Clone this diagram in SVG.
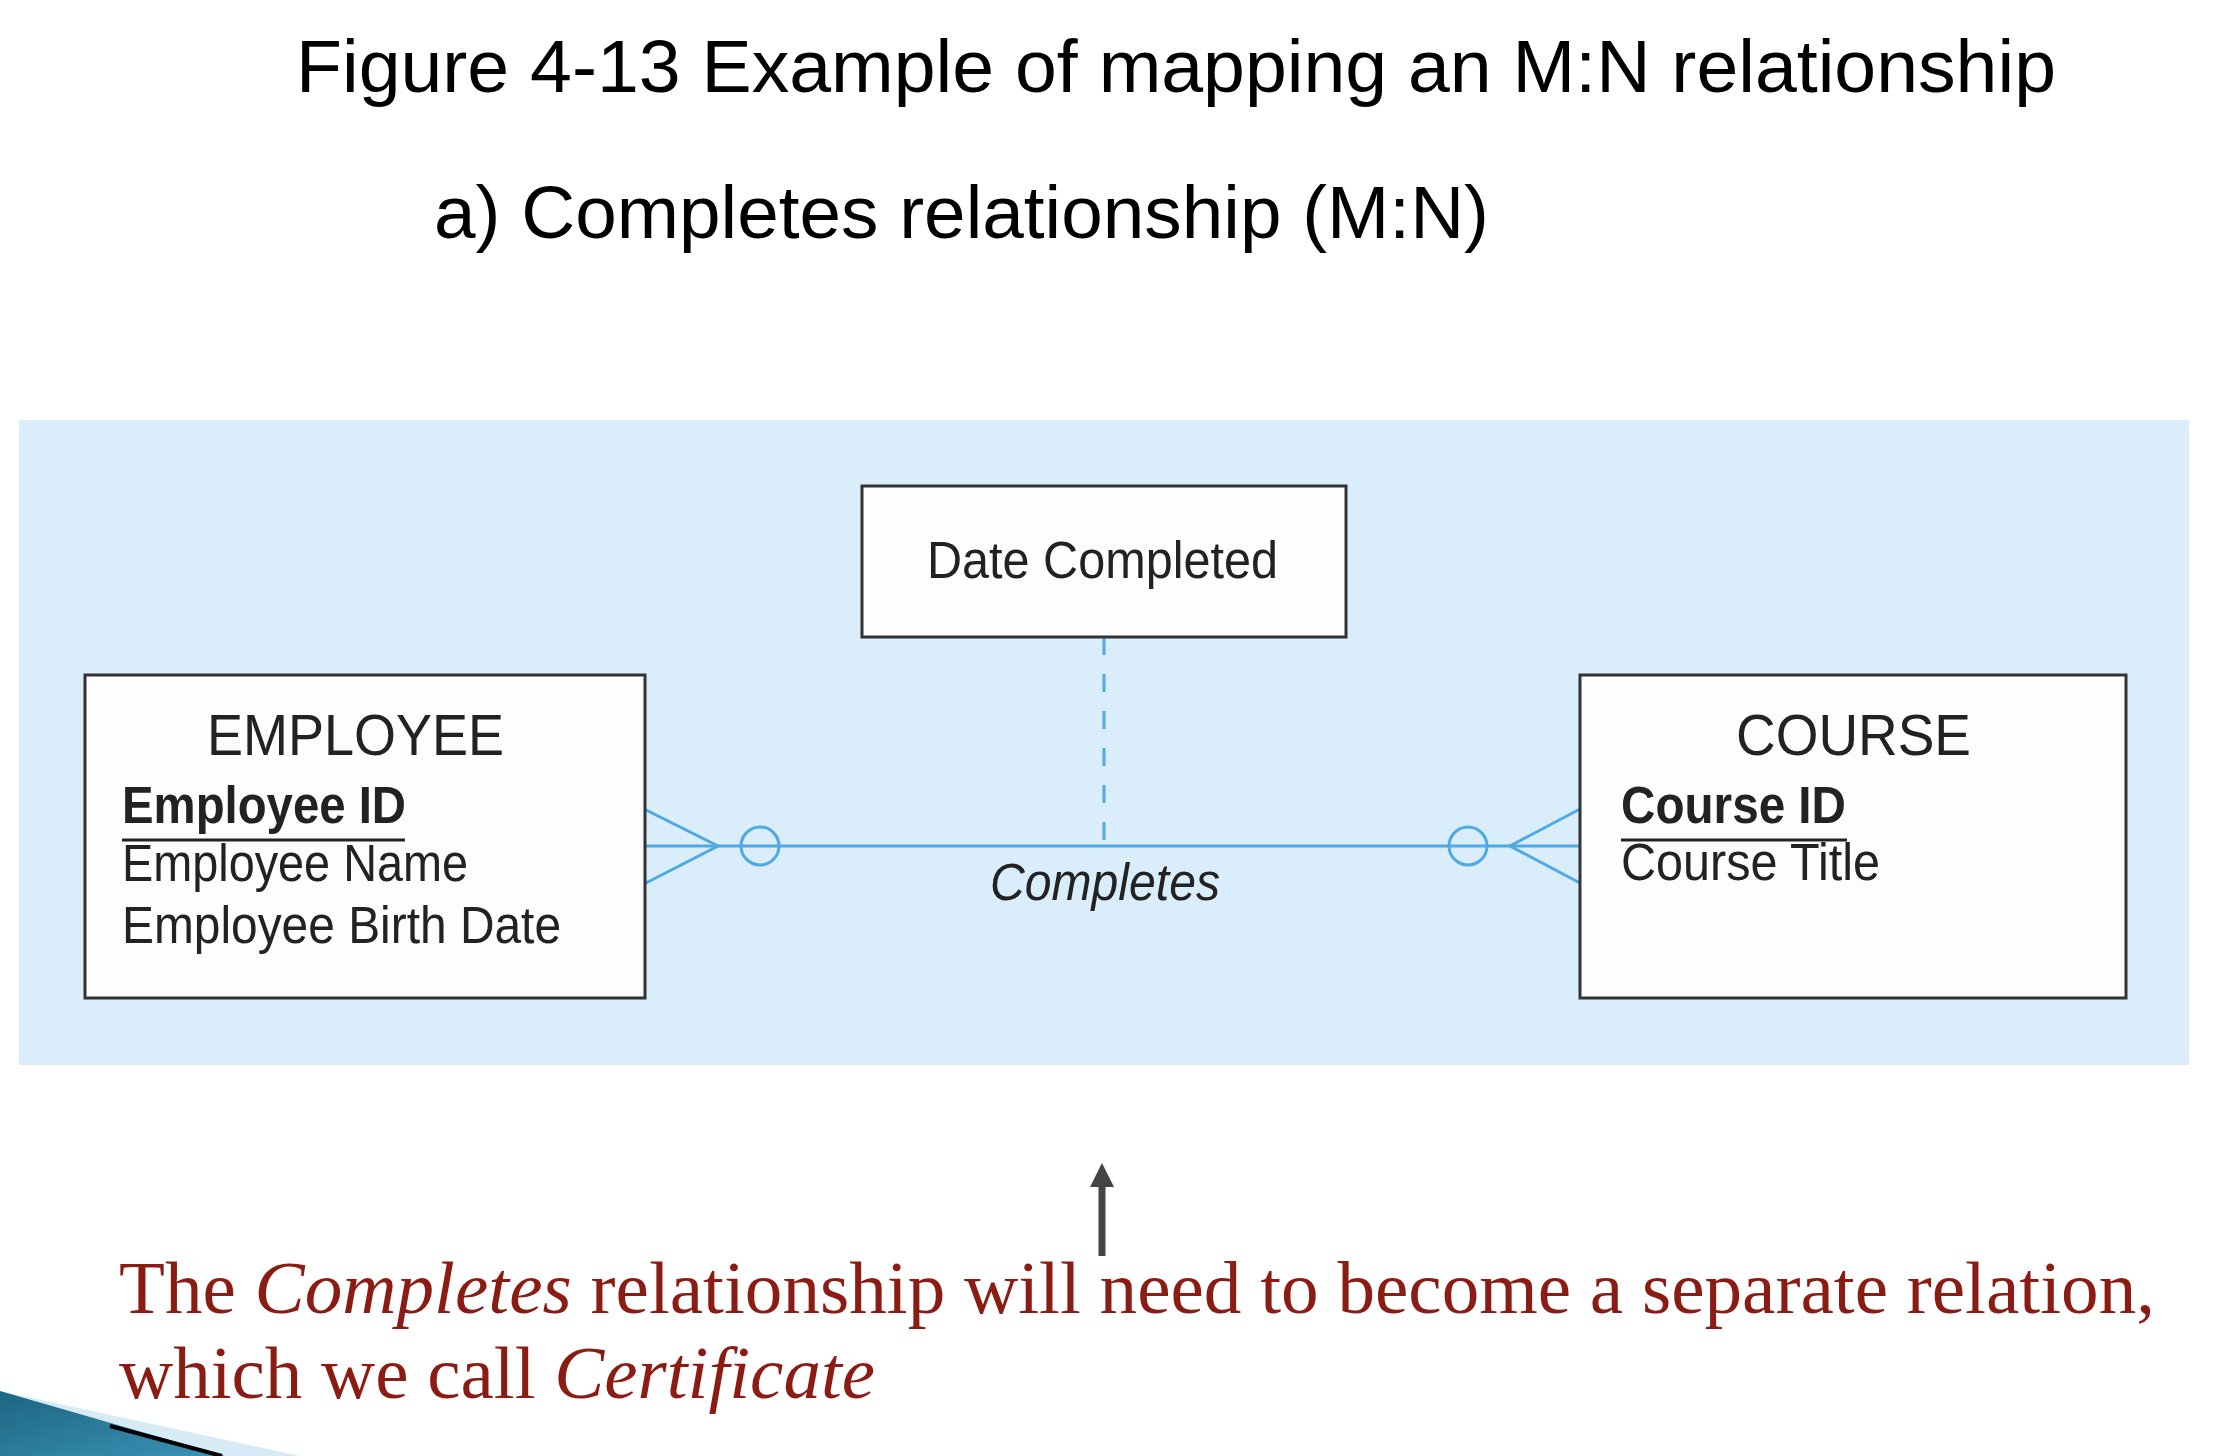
<svg xmlns="http://www.w3.org/2000/svg" width="2234" height="1456" viewBox="0 0 2234 1456">
<defs>
<style>
.title{font-family:"Liberation Sans",Arial,sans-serif;font-size:75px;fill:#000}
.ent{fill:#fdfdfd;stroke:#333;stroke-width:3}
.hdr{font-family:"Liberation Sans",Arial,sans-serif;font-size:57px;fill:#222}
.att{font-family:"Liberation Sans",Arial,sans-serif;font-size:51px;fill:#222}
.pk{font-weight:bold}
.rel{stroke:#4fa9e3;stroke-width:3;fill:none}
.note{font-family:"Liberation Serif","Times New Roman",serif;font-size:75px;fill:#8b1c13}
</style>
<linearGradient id="wedge" x1="0" y1="0" x2="1" y2="1">
<stop offset="0" stop-color="#1d6582"/>
<stop offset="1" stop-color="#3a93b5"/>
</linearGradient>
</defs>
<rect width="2234" height="1456" fill="#fff"/>
<text class="title" x="296" y="92" textLength="1760" lengthAdjust="spacingAndGlyphs">Figure 4-13 Example of mapping an M:N relationship</text>
<text class="title" x="434" y="238" textLength="1055" lengthAdjust="spacingAndGlyphs">a) Completes relationship (M:N)</text>
<rect id="panel" x="19" y="420" width="2170" height="645" fill="#d9edfa"/>
<g id="connectors">
<line class="rel" x1="644" y1="846" x2="1580" y2="846"/>
<polyline class="rel" points="644,809 718,846 644,884"/>
<polyline class="rel" points="1580,809 1510,846 1580,883"/>
<circle class="rel" cx="760" cy="846" r="19" fill="#d9edfa"/>
<circle class="rel" cx="1468" cy="846" r="19" fill="#d9edfa"/>
<line class="rel" x1="1104" y1="637" x2="1104" y2="846" stroke-dasharray="18 19"/>
<text x="1105" y="900" text-anchor="middle" font-family="'Liberation Sans',Arial,sans-serif" font-size="51" font-style="italic" fill="#222" textLength="230" lengthAdjust="spacingAndGlyphs">Completes</text>
</g>
<g id="employee">
<rect class="ent" x="85" y="675" width="560" height="323"/>
<text class="hdr" x="207" y="755" textLength="297" lengthAdjust="spacingAndGlyphs">EMPLOYEE</text>
<text class="att pk" x="122" y="823" textLength="284" lengthAdjust="spacingAndGlyphs">Employee ID</text>
<line x1="122" y1="840" x2="405" y2="840" stroke="#222" stroke-width="3"/>
<text class="att" x="122" y="881" textLength="346" lengthAdjust="spacingAndGlyphs">Employee Name</text>
<text class="att" x="122" y="943" textLength="439" lengthAdjust="spacingAndGlyphs">Employee Birth Date</text>
</g>
<g id="course">
<rect class="ent" x="1580" y="675" width="546" height="323"/>
<text class="hdr" x="1736" y="755" textLength="235" lengthAdjust="spacingAndGlyphs">COURSE</text>
<text class="att pk" x="1621" y="823" textLength="225" lengthAdjust="spacingAndGlyphs">Course ID</text>
<line x1="1621" y1="840" x2="1847" y2="840" stroke="#222" stroke-width="3"/>
<text class="att" x="1621" y="880" textLength="259" lengthAdjust="spacingAndGlyphs">Course Title</text>
</g>
<g id="date-completed">
<rect class="ent" x="862" y="486" width="484" height="151"/>
<text class="att" x="927" y="578" textLength="351" lengthAdjust="spacingAndGlyphs">Date Completed</text>
</g>
<g id="note-arrow">
<line x1="1102" y1="1256" x2="1102" y2="1186" stroke="#444" stroke-width="7"/>
<path d="M1090,1187 L1102,1163 L1114,1187 z" fill="#444"/>
</g>
<text class="note" x="119" y="1313" textLength="2036" lengthAdjust="spacingAndGlyphs">The <tspan font-style="italic">Completes</tspan> relationship will need to become a separate relation,</text>
<text class="note" x="119" y="1398">which we call <tspan font-style="italic">Certificate</tspan></text>
<g id="decoration">
<polygon points="0,1391 300,1456 0,1456" fill="#d6ebf5"/>
<polygon points="0,1391 225,1456 0,1456" fill="url(#wedge)"/>
<line x1="110" y1="1426" x2="222" y2="1456" stroke="#000" stroke-width="4"/>
</g>
</svg>
